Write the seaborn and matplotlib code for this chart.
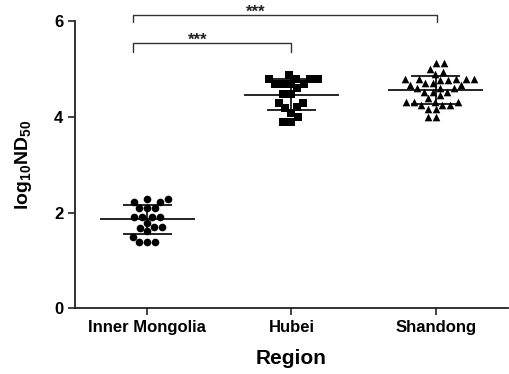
import numpy as np
import pandas as pd
import matplotlib
matplotlib.use('Agg')
import matplotlib.pyplot as plt
import seaborn as sns

# Data (log10 ND50)
regions = ['Inner Mongolia', 'Hubei', 'Shandong']
markers = ['o', 's', '^']

inner_mongolia = [2.29, 2.29, 2.22, 2.22, 2.10, 2.10, 2.10, 1.91, 1.91, 1.91,
                  1.91, 1.79, 1.70, 1.67, 1.70, 1.62, 1.49, 1.39, 1.39, 1.39]
hubei = [4.80, 4.80, 4.87, 4.80, 4.80, 4.69, 4.69, 4.69, 4.60, 4.69,
         4.49, 4.49, 4.30, 4.30, 4.21, 4.19, 4.09, 3.99, 3.90, 3.90]
shandong = [5.12, 5.12, 5.01, 4.94, 4.89, 4.79, 4.79, 4.79, 4.79, 4.79,
            4.77, 4.77, 4.70, 4.70, 4.66, 4.66, 4.61, 4.61, 4.61, 4.53,
            4.53, 4.53, 4.45, 4.39, 4.32, 4.32, 4.32, 4.32, 4.25, 4.25,
            4.25, 4.16, 4.16, 4.00, 4.00]

yticks = [0, 2, 4, 6]
sig_labels = ['***', '***']

df = pd.concat([
    pd.DataFrame({'Region': 'Inner Mongolia', 'value': inner_mongolia}),
    pd.DataFrame({'Region': 'Hubei', 'value': hubei}),
    pd.DataFrame({'Region': 'Shandong', 'value': shandong}),
], ignore_index=True)

sns.set_style('ticks')
plt.rcParams['font.family'] = ['Liberation Sans', 'DejaVu Sans']
plt.rcParams['font.weight'] = 'bold'
plt.rcParams['mathtext.fontset'] = 'custom'
plt.rcParams['mathtext.rm'] = 'Liberation Sans:bold'
plt.rcParams['mathtext.bf'] = 'Liberation Sans:bold'
for key in ['text.color', 'axes.labelcolor', 'xtick.color', 'ytick.color']:
    plt.rcParams[key] = 'black'

fig = plt.figure(figsize=(5.1, 3.74), dpi=100)
ax = fig.add_axes([0.147, 0.176, 0.849, 0.767])

for i, (reg, mk) in enumerate(zip(regions, markers)):
    sub = df[df['Region'] == reg]
    sns.swarmplot(data=sub, x='Region', y='value', order=regions, marker=mk,
                  color='black', size=5.5, ax=ax, zorder=3)
    m = sub['value'].mean()
    s = sub['value'].std()
    ax.hlines(m, i - 0.33, i + 0.33, color='black', lw=1.2, zorder=4)
    ax.hlines([m - s, m + s], i - 0.17, i + 0.17, color='black', lw=1.2, zorder=4)
    ax.vlines(i, m - s, m + s, color='black', lw=1.2, zorder=4)

# significance brackets
brackets = [(-0.10, 1.0, 5.54, 5.36, 0.35), (-0.10, 2.01, 6.13, 5.98, 0.75)]
for (x0, x1, yb, yd, xs), lab in zip(brackets, sig_labels):
    ax.plot([x0, x0, x1, x1], [yd, yb, yb, yd], color='#333333', lw=1.0,
            clip_on=False)
    ax.text(xs, yb - 0.04, lab, ha='center', va='baseline', fontsize=12,
            color='#222222')

ax.set_xlim(-0.5, 2.5)
ax.set_ylim(0, 6)
ax.set_yticks(yticks)
ax.tick_params(axis='both', direction='out', length=5, width=1.2,
               labelsize=12, color='#222222')
for lbl in ax.get_xticklabels() + ax.get_yticklabels():
    lbl.set_fontweight('bold')
ax.set_xlabel('Region', fontsize=15, fontweight='bold', labelpad=10)
ax.set_ylabel(r'$\mathregular{log_{10}ND_{50}}$', fontsize=14,
              fontweight='bold', labelpad=14)
sns.despine(ax=ax)
for sp in ['left', 'bottom']:
    ax.spines[sp].set_linewidth(1.3)
    ax.spines[sp].set_color('#222222')

fig.savefig('out.png', dpi=100)
